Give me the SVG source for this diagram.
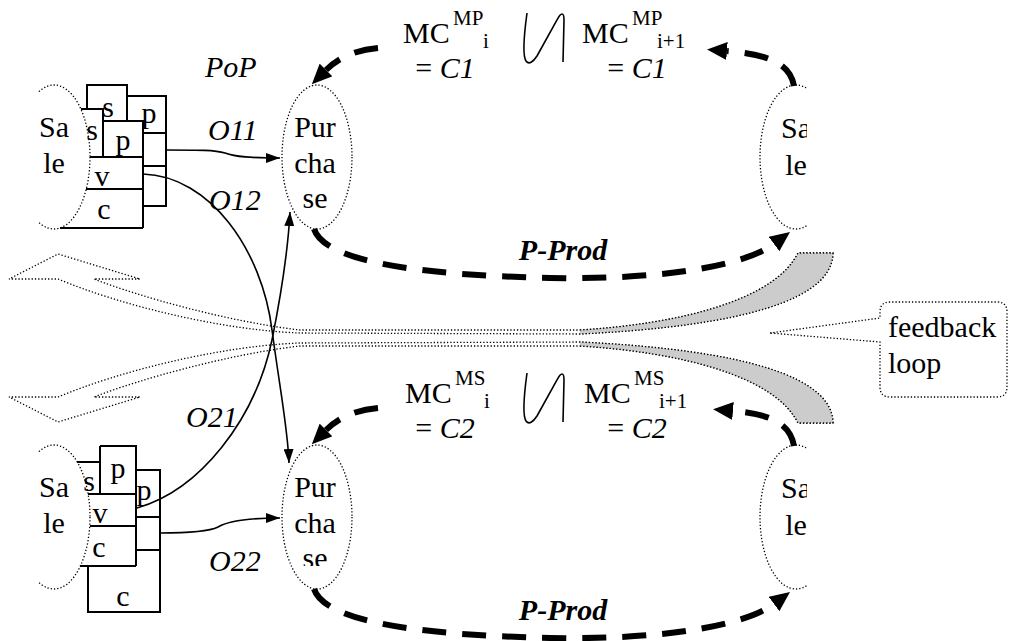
<svg xmlns="http://www.w3.org/2000/svg" width="1011" height="641" viewBox="0 0 1011 641">
<defs>
<style>
text{font-family:"Liberation Serif","Times New Roman",serif;font-size:30px;fill:#000}
.it{font-style:italic}
.bi{font-style:italic;font-weight:bold}
.sup{font-size:21px}
.mid{text-anchor:middle}
.dot{fill:none;stroke:#000;stroke-width:1.3;stroke-dasharray:1.3 2}
.doc{fill:none;stroke:#000;stroke-width:2}
.con{fill:none;stroke:#000;stroke-width:1.6}
.dash{fill:none;stroke:#000;stroke-width:6;stroke-dasharray:24 16}
.sym{fill:none;stroke:#000;stroke-width:1.6}
.fb{fill:#fff;stroke:#000;stroke-width:1.3;stroke-dasharray:1.3 2}
.grey{fill:#cccccc;stroke:none}
</style>
<marker id="ah" markerUnits="userSpaceOnUse" markerWidth="14" markerHeight="10" refX="14" refY="5" orient="auto"><path d="M0,0 L14,5 L0,10 z" fill="#000"/></marker>
<marker id="big" markerUnits="userSpaceOnUse" markerWidth="20" markerHeight="18" refX="0" refY="9" orient="auto"><path d="M0,0 L20,9 L0,18 z" fill="#000"/></marker>
<clipPath id="clipR"><rect x="700" y="0" width="107" height="641"/></clipPath>
<clipPath id="clipL"><rect x="38" y="0" width="200" height="641"/></clipPath>
<clipPath id="clipSe"><rect x="270" y="0" width="100" height="566"/></clipPath>
</defs>
<rect width="1011" height="641" fill="#fff"/>

<!-- feedback loop block arrows -->
<g id="feedback-arrows">
  <g id="fb-top">
    <path class="fb" d="M833,253 C832,310 700,328 580,334 L300,333 C220,330 120,305 58,279 L9,279 L58,254 L140,279 L94,279 C140,297 230,322 300,330 L580,330 C680,324 775,300 798,253 Z"/>
    <path class="grey" d="M833,253 C832,310 700,328 580,334 L580,330 C680,324 775,300 798,253 Z"/>
    <path class="dot" d="M833,253 C832,310 700,328 580,334 M580,330 C680,324 775,300 798,253 L833,253"/>
  </g>
  <g id="fb-bottom" transform="matrix(1 0 0 -1 0 676)">
    <path class="fb" d="M833,253 C832,310 700,328 580,334 L300,333 C220,330 120,305 58,279 L9,279 L58,254 L140,279 L94,279 C140,297 230,322 300,330 L580,330 C680,324 775,300 798,253 Z"/>
    <path class="grey" d="M833,253 C832,310 700,328 580,334 L580,330 C680,324 775,300 798,253 Z"/>
    <path class="dot" d="M833,253 C832,310 700,328 580,334 M580,330 C680,324 775,300 798,253 L833,253"/>
  </g>
</g>

<g id="feedback-callout">
  <path class="fb" d="M770,333 L880,318 L880,312 Q880,302 890,302 L997,302 Q1007,302 1007,312 L1007,387 Q1007,397 997,397 L890,397 Q880,397 880,387 L880,342 Z"/>
  <text x="888" y="337">feedback</text>
  <text x="888" y="373">loop</text>
</g>

<text class="it" x="205" y="77">PoP</text>

<!-- top loop -->
<g id="sale-left-1" clip-path="url(#clipL)">
  <ellipse class="dot" cx="54" cy="157" rx="36" ry="72"/>
  <text class="mid" x="54" y="137">Sa</text>
  <text class="mid" x="54" y="173">le</text>
</g>
<g id="docs-1">
  <g class="doc">
    <path d="M87,109 V85 H127 V121"/>
    <path d="M127,96 H166 V206 H143 M143,133 H166 M143,166 H166"/>
    <path d="M81,109 H103 V157"/>
    <path d="M103,121 H143 V228"/>
    <path d="M90,157 H143 M86,189 H143 M60,228 H143"/>
  </g>
  <text class="mid" x="108" y="117">s</text>
  <text class="mid" x="149" y="123">p</text>
  <text class="mid" x="92" y="140">s</text>
  <text class="mid" x="123" y="150">p</text>
  <text class="mid" x="102" y="186">v</text>
  <text class="mid" x="104" y="219">c</text>
</g>
<g id="purchase-1">
  <ellipse class="dot" cx="317" cy="157" rx="35" ry="72"/>
  <text class="mid" x="315" y="137">Pur</text>
  <text class="mid" x="315" y="173">cha</text>
  <text class="mid" x="315" y="208">se</text>
</g>
<g id="sale-right-1" clip-path="url(#clipR)">
  <ellipse class="dot" cx="796" cy="157" rx="36" ry="72"/>
  <text class="mid" x="796" y="138">Sa</text>
  <text class="mid" x="796" y="175">le</text>
</g>
<g id="mc-1">
  <text x="403" y="43">MC</text><text class="sup" x="453" y="25">MP</text><text class="sup" x="483" y="48">i</text>
  <text class="mid" x="445" y="78">= <tspan class="it">C1</tspan></text>
  <path class="sym" d="M527,13 C524,35 522,55 526,61 C529,65 533,62 537,56 L557,20 C561,12 564,12 564,20 L563,62"/>
  <text x="582" y="43">MC</text><text class="sup" x="632" y="25">MP</text><text class="sup" x="657" y="48">i+1</text>
  <text class="mid" x="637" y="78">= <tspan class="it">C1</tspan></text>
</g>
<text class="bi mid" x="563" y="260">P-Prod</text>

<!-- bottom loop -->
<g id="sale-left-2" clip-path="url(#clipL)">
  <ellipse class="dot" cx="54" cy="517" rx="36" ry="72"/>
  <text class="mid" x="54" y="497">Sa</text>
  <text class="mid" x="54" y="533">le</text>
</g>
<g id="docs-2">
  <g class="doc">
    <path d="M77,462 H100"/>
    <path d="M100,446 V494"/>
    <path d="M100,446 H136 V566"/>
    <path d="M136,470 H160 V612 H88 V566"/>
    <path d="M136,517 H160 M136,550 H160"/>
    <path d="M88,494 H136 M90,526 H136 M80,566 H136"/>
  </g>
  <text class="mid" x="118" y="478">p</text>
  <text class="mid" x="89" y="491">s</text>
  <text class="mid" x="144" y="500">p</text>
  <text class="mid" x="100" y="523">v</text>
  <text class="mid" x="99" y="557">c</text>
  <text class="mid" x="123" y="606">c</text>
</g>
<g id="purchase-2">
  <ellipse class="dot" cx="317" cy="517" rx="35" ry="72"/>
  <text class="mid" x="315" y="497">Pur</text>
  <text class="mid" x="315" y="533">cha</text>
  <text class="mid" x="315" y="568" clip-path="url(#clipSe)">se</text>
</g>
<g id="sale-right-2" clip-path="url(#clipR)">
  <ellipse class="dot" cx="796" cy="517" rx="36" ry="72"/>
  <text class="mid" x="796" y="498">Sa</text>
  <text class="mid" x="796" y="535">le</text>
</g>
<g id="mc-2">
  <text x="405" y="403">MC</text><text class="sup" x="455" y="385">MS</text><text class="sup" x="484" y="408">i</text>
  <text class="mid" x="445" y="438">= <tspan class="it">C2</tspan></text>
  <path class="sym" d="M527,373 C524,395 522,415 526,421 C529,425 533,422 537,416 L557,380 C561,372 564,372 564,380 L563,422"/>
  <text x="584" y="403">MC</text><text class="sup" x="634" y="385">MS</text><text class="sup" x="659" y="408">i+1</text>
  <text class="mid" x="637" y="438">= <tspan class="it">C2</tspan></text>
</g>
<text class="bi mid" x="563" y="620">P-Prod</text>

<!-- connectors -->
<g id="connectors">
  <path class="dash" marker-end="url(#big)" d="M794,86 C790,62 765,54 727,51"/>
  <path class="dash" marker-end="url(#big)" d="M378,48 C355,50 338,58 326,70"/>
  <path class="dash" marker-end="url(#big)" d="M314,229 C325,262 420,275 550,278 C680,280 750,262 774,244"/>
  <path class="dash" marker-end="url(#big)" d="M794,446 C790,422 768,414 733,411"/>
  <path class="dash" marker-end="url(#big)" d="M378,408 C355,410 338,418 326,430"/>
  <path class="dash" marker-end="url(#big)" d="M314,589 C325,622 420,635 550,638 C680,640 750,622 774,604"/>

  <path class="con" marker-end="url(#ah)" d="M166,150 C200,150 215,150 225,153 C235,157 250,158 280,158"/>
  <path class="con" marker-end="url(#ah)" d="M143,174 C210,176 262,250 272,330 C280,390 288,430 289,463"/>
  <path class="con" marker-end="url(#ah)" d="M137,508 C200,490 255,420 272,340 C282,290 288,250 290,212"/>
  <path class="con" marker-end="url(#ah)" d="M160,533 C190,533 210,531 218,527 C226,522 245,518 280,518"/>
  <text class="it" x="208" y="140">O11</text>
  <text class="it" x="209" y="210">O12</text>
  <text class="it" x="186" y="427">O21</text>
  <text class="it" x="209" y="571">O22</text>
</g>
</svg>
